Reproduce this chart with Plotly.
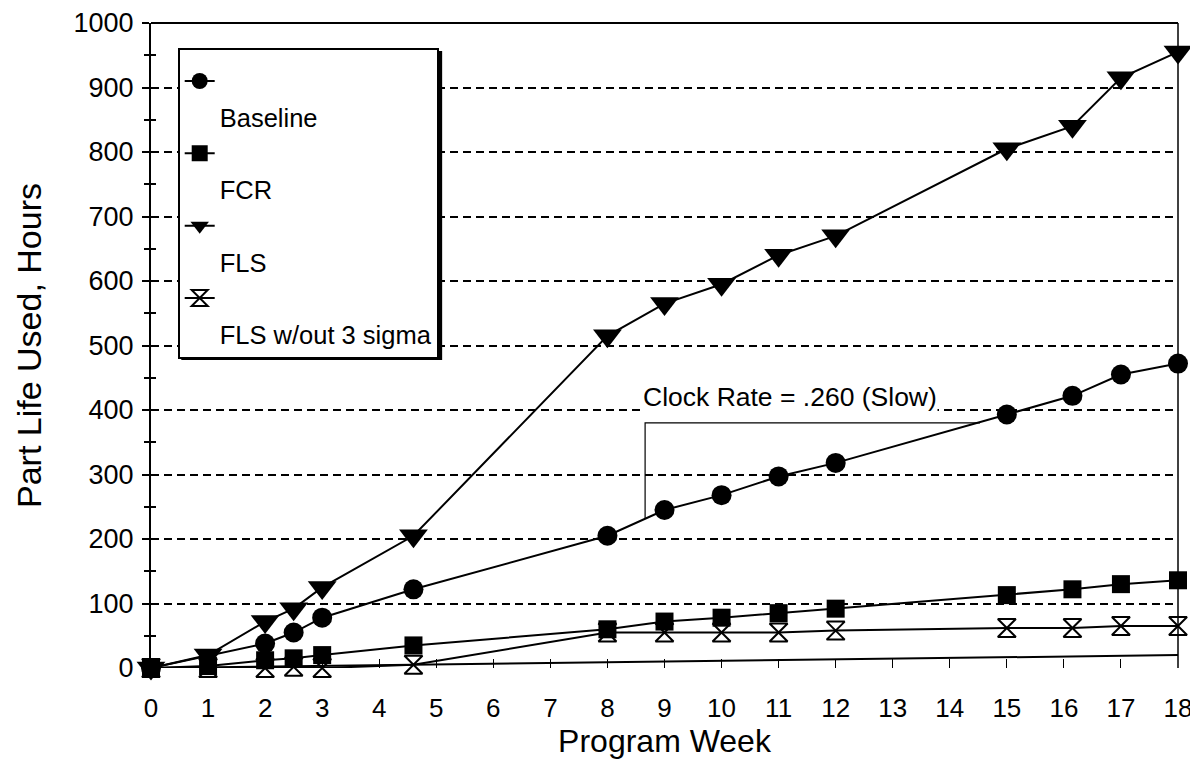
import plotly.graph_objects as go

weeks = [0, 1, 2, 2.5, 3, 4.6, 8, 9, 10, 11, 12, 15, 16.15, 17, 18]
baseline_weeks = [0, 2, 2.5, 3, 4.6, 8, 9, 10, 11, 12, 15, 16.15, 17, 18]
baseline = [0, 38, 55, 78, 122, 205, 245, 268, 297, 318, 393, 422, 455, 472]
fcr = [0, 3, 12, 15, 20, 35, 60, 72, 78, 85, 92, 113, 122, 130, 136]
fls = [0, 20, 72, 92, 125, 205, 515, 565, 595, 640, 670, 805, 840, 915, 955]
fls_wo = [0, 0, 0, 2, 0, 5, 55, 55, 55, 55, 58, 62, 62, 65, 65]
ref_weeks = [0, 18]
ref_line = [0, 20]
bracket_x = [8.66, 8.66, 14.53]
bracket_y = [231, 380, 380]
series_names = ["Baseline", "FCR", "FLS", "FLS w/out 3 sigma"]
x_ticks = list(range(0, 19))
y_ticks = list(range(0, 1001, 100))

FONT = "Liberation Sans, Arial, sans-serif"
LW = 2

fig = go.Figure()

fig.add_trace(go.Scatter(x=ref_weeks, y=ref_line, mode="lines",
                         line=dict(color="black", width=LW), showlegend=False,
                         cliponaxis=False, hoverinfo="skip"))
fig.add_trace(go.Scatter(x=bracket_x, y=bracket_y, mode="lines",
                         line=dict(color="black", width=1.2), showlegend=False,
                         hoverinfo="skip"))

specs = [
    (baseline_weeks, baseline, dict(symbol="circle", size=20, color="black")),
    (weeks, fcr, dict(symbol="square", size=18, color="black")),
    (weeks, fls, dict(symbol="triangle-down", size=25, color="black")),
    (weeks, fls_wo, dict(symbol="hourglass-open", size=18, color="black",
                         line=dict(width=2, color="black"))),
]
for name, (xs, ys, mk) in zip(series_names, specs):
    # data trace: shows the line+marker icon in the legend (name text on next legend row)
    fig.add_trace(go.Scatter(x=xs, y=ys, mode="lines+markers", name=" ",
                             line=dict(color="black", width=LW), marker=mk,
                             cliponaxis=False,
                             hovertemplate=name + ": %{y}<extra></extra>"))
    # legend-only label row below the icon
    fig.add_trace(go.Scatter(x=[None], y=[None], mode="lines", name=name,
                             line=dict(color="rgba(0,0,0,0)", width=0),
                             hoverinfo="skip"))

fig.add_annotation(x=8.6, y=420, xanchor="left", yanchor="middle",
                   text="Clock Rate = .260 (Slow)", showarrow=False,
                   bgcolor="white", borderpad=0,
                   font=dict(family=FONT, size=26.5, color="black"))

fig.update_layout(
    width=1190, height=751,
    margin=dict(l=143, r=20, t=15, b=91),
    paper_bgcolor="white", plot_bgcolor="white",
    font=dict(family=FONT, color="black"),
    legend=dict(x=0.026, y=0.961, xanchor="left", yanchor="top",
                bgcolor="white", bordercolor="black", borderwidth=2,
                font=dict(family=FONT, size=25.5, color="black"),
                title=dict(text=" ", font=dict(size=6)),
                tracegroupgap=0, itemwidth=30, traceorder="normal"),
    xaxis=dict(range=[0, 18], tickvals=x_ticks, ticks="inside", ticklen=9,
               tickcolor="black", tickwidth=1, showgrid=False, zeroline=False,
               showline=False, automargin=False,
               tickfont=dict(size=26), ticklabelstandoff=22,
               title=dict(text="Program Week", font=dict(size=32), standoff=6)),
    yaxis=dict(range=[0, 1000], tickvals=y_ticks, ticks="outside", ticklen=7,
               tickcolor="black", tickwidth=1.5, showline=True, linecolor="black",
               linewidth=2, showgrid=True, gridcolor="black", griddash="8px,5px",
               gridwidth=1.6, zeroline=False, tickfont=dict(size=27),
               ticklabelstandoff=3, automargin=False,
               minor=dict(dtick=50, ticks="outside", ticklen=5, tickcolor="black",
                          showgrid=False),
               title=dict(text="Part Life Used, Hours", font=dict(size=34), standoff=22)),
    yaxis2=dict(range=[0, 1000], overlaying="y", side="left", tickvals=y_ticks,
                ticks="inside", ticklen=7, tickcolor="black", tickwidth=1.5,
                showticklabels=False, showgrid=False, zeroline=False,
                minor=dict(dtick=50, ticks="inside", ticklen=5, tickcolor="black")),
)
fig.add_trace(go.Scatter(x=[None], y=[None], yaxis="y2", showlegend=False, hoverinfo="skip"))

fig.add_shape(type="line", xref="paper", yref="paper", x0=0, x1=1, y0=1, y1=1,
              line=dict(color="black", width=2))
fig.add_shape(type="line", xref="paper", yref="paper", x0=1, x1=1, y0=0, y1=1,
              line=dict(color="black", width=1.5))
# drop shadow behind the legend box
fig.add_shape(type="rect", xref="paper", yref="paper", layer="above",
              x0=0.0295, x1=0.2835, y0=0.4775, y1=0.9565,
              fillcolor="black", line=dict(width=0))

fig.write_html("out.html")
